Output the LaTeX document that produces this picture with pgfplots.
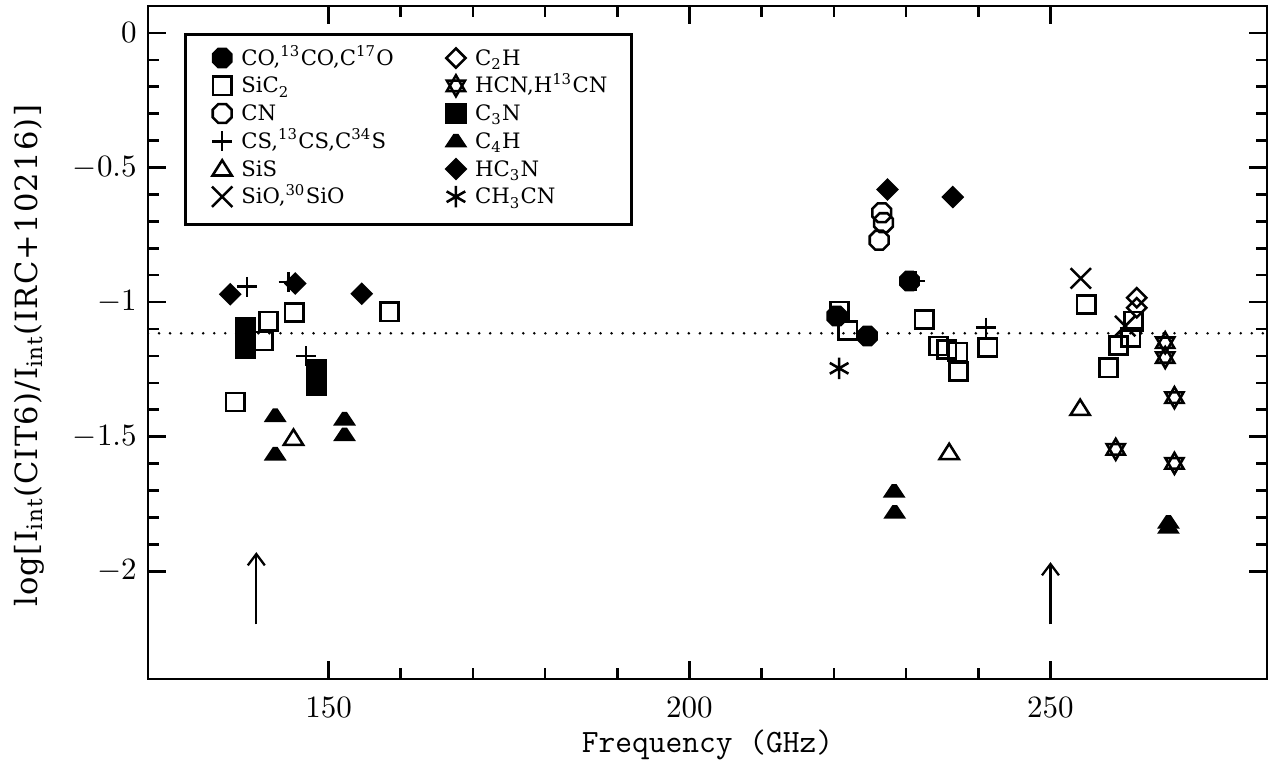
\documentclass[border=0pt]{standalone}
\usepackage{pgfplots}
\pgfplotsset{compat=1.18}
\usepackage{fontspec}
\newfontfamily\dvs{DejaVu Serif}
\newfontfamily\dvsl[LetterSpace=4]{DejaVu Serif}
\usetikzlibrary{arrows.meta}

\pgfdeclareplotmark{octo}{%
  \pgfpathmoveto{\pgfpointpolar{22.5}{3.6pt}}%
  \pgfpathlineto{\pgfpointpolar{67.5}{3.6pt}}%
  \pgfpathlineto{\pgfpointpolar{112.5}{3.6pt}}%
  \pgfpathlineto{\pgfpointpolar{157.5}{3.6pt}}%
  \pgfpathlineto{\pgfpointpolar{202.5}{3.6pt}}%
  \pgfpathlineto{\pgfpointpolar{247.5}{3.6pt}}%
  \pgfpathlineto{\pgfpointpolar{292.5}{3.6pt}}%
  \pgfpathlineto{\pgfpointpolar{337.5}{3.6pt}}%
  \pgfpathclose\pgfusepathqstroke}
\pgfdeclareplotmark{octof}{%
  \pgfpathmoveto{\pgfpointpolar{22.5}{3.5pt}}%
  \pgfpathlineto{\pgfpointpolar{67.5}{3.5pt}}%
  \pgfpathlineto{\pgfpointpolar{112.5}{3.5pt}}%
  \pgfpathlineto{\pgfpointpolar{157.5}{3.5pt}}%
  \pgfpathlineto{\pgfpointpolar{202.5}{3.5pt}}%
  \pgfpathlineto{\pgfpointpolar{247.5}{3.5pt}}%
  \pgfpathlineto{\pgfpointpolar{292.5}{3.5pt}}%
  \pgfpathlineto{\pgfpointpolar{337.5}{3.5pt}}%
  \pgfpathclose\pgfusepathqfillstroke}
\pgfdeclareplotmark{david}{%
  \pgfpathmoveto{\pgfpointpolar{90}{3.7pt}}%
  \pgfpathlineto{\pgfpointpolar{210}{3.7pt}}%
  \pgfpathlineto{\pgfpointpolar{330}{3.7pt}}%
  \pgfpathclose
  \pgfpathmoveto{\pgfpointpolar{270}{3.7pt}}%
  \pgfpathlineto{\pgfpointpolar{30}{3.7pt}}%
  \pgfpathlineto{\pgfpointpolar{150}{3.7pt}}%
  \pgfpathclose\pgfusepathqstroke}
\pgfdeclareplotmark{ast}{%
  \pgfpathmoveto{\pgfpointpolar{90}{3.8pt}}\pgfpathlineto{\pgfpointpolar{270}{3.8pt}}%
  \pgfpathmoveto{\pgfpointpolar{30}{3.8pt}}\pgfpathlineto{\pgfpointpolar{210}{3.8pt}}%
  \pgfpathmoveto{\pgfpointpolar{150}{3.8pt}}\pgfpathlineto{\pgfpointpolar{330}{3.8pt}}%
  \pgfusepathqstroke}
\pgfdeclareplotmark{cross}{%
  \pgfpathmoveto{\pgfqpoint{-3.6pt}{-3.6pt}}\pgfpathlineto{\pgfqpoint{3.6pt}{3.6pt}}%
  \pgfpathmoveto{\pgfqpoint{-3.6pt}{3.6pt}}\pgfpathlineto{\pgfqpoint{3.6pt}{-3.6pt}}%
  \pgfusepathqstroke}
\pgfdeclareplotmark{tri}{%
  \pgfpathmoveto{\pgfqpoint{0pt}{3.1pt}}%
  \pgfpathlineto{\pgfqpoint{3.4pt}{-2.3pt}}%
  \pgfpathlineto{\pgfqpoint{-3.4pt}{-2.3pt}}%
  \pgfpathclose\pgfusepathqstroke}
\pgfdeclareplotmark{trif}{%
  \pgfpathmoveto{\pgfqpoint{-3.2pt}{-1.7pt}}%
  \pgfpathlineto{\pgfqpoint{3.2pt}{-1.7pt}}%
  \pgfpathlineto{\pgfqpoint{0.6pt}{2.2pt}}%
  \pgfpathlineto{\pgfqpoint{-0.6pt}{2.2pt}}%
  \pgfpathclose\pgfusepathqfillstroke}

\begin{document}
\begin{tikzpicture}
\begin{axis}[
  name=ax, scale only axis, width=395.4pt, height=237.8pt,
  xmin=125, xmax=280, ymin=-2.4, ymax=0.1,
  xtick={150,200,250}, minor x tick num=4,
  ytick={-2,-1.5,-1,-0.5,0}, minor y tick num=4,
  tick align=inside, major tick length=6.5pt, minor tick length=3.8pt,
  every tick/.style={black, line width=0.9pt},
  axis line style={line width=1pt},
  ticklabel style={font=\fontsize{11}{13}\selectfont},
  xticklabel style={yshift=-3pt},
  yticklabel style={xshift=-0.5pt},
  xlabel={\fontsize{11.5}{14}\selectfont\ttfamily Frequency (GHz)},
  xlabel style={at={(axis description cs:0.5,0)}, anchor=base, yshift=-26pt},
  ylabel={\dvsl\fontsize{10.8}{13}\selectfont log[I\textsubscript{int}(CIT6)/I\textsubscript{int}(IRC+10216)]},
  ylabel style={at={(axis description cs:-0.0991,0.48)}, anchor=base},
  every axis plot/.append style={line width=0.9pt, black},
  legend columns=2,
  legend style={at={(axis cs:130,0)}, anchor=north west, draw=black, line width=1pt,
    fill=white, inner xsep=7.8pt, inner ysep=4.2pt, row sep=0pt, column sep=0pt,
    font=\dvs\fontsize{7.5}{9}\selectfont,
    nodes={inner sep=0.7pt, text height=6.0pt, text depth=2.4pt, anchor=base west},
    cells={anchor=base west}},
  legend image code/.code={\path (-4.7pt,0pt) (5.6pt,0pt); \draw[#1,only marks] plot coordinates {(0pt,2.5pt)};},
]
% CO, 13CO, C17O
\addplot[only marks, mark=octof, mark options={fill=black}] coordinates {
 (220.40,-1.052) (224.65,-1.126) (230.47,-0.922)};
\addlegendentry{\makebox[70pt][l]{CO,\textsuperscript{13}CO,C\textsuperscript{17}O}}
% C2H
\addplot[only marks, mark=square, mark size=2.4pt, mark options={rotate=45}] coordinates {
 (261.95,-0.984) (261.95,-1.021)};
\addlegendentry{\makebox[42.7pt][l]{C\textsubscript{2}H}}
% SiC2
\addplot[only marks, mark=square, mark size=3.2pt] coordinates {
 (137.08,-1.371) (141.0,-1.145) (141.69,-1.071) (145.25,-1.039) (158.45,-1.036)
 (220.78,-1.033) (221.93,-1.105) (232.51,-1.064) (234.49,-1.163) (235.64,-1.176)
 (237.16,-1.186) (237.26,-1.258) (241.32,-1.169) (254.95,-1.009) (258.03,-1.244)
 (259.42,-1.161) (261.12,-1.132) (261.5,-1.071)};
\addlegendentry{SiC\textsubscript{2}}
% HCN, H13CN
\addplot[only marks, mark=david] coordinates {
 (259.04,-1.547) (265.89,-1.151) (265.89,-1.206) (267.17,-1.355) (267.17,-1.599)};
\addlegendentry{HCN,H\textsuperscript{13}CN}
% CN
\addplot[only marks, mark=octo] coordinates {
 (226.27,-0.770) (226.63,-0.668) (226.87,-0.705)};
\addlegendentry{CN}
% C3N
\addplot[only marks, mark=square*, mark size=3.3pt, mark options={fill=black}] coordinates {
 (138.46,-1.095) (138.46,-1.173) (148.38,-1.25) (148.38,-1.28) (148.38,-1.31)};
\addlegendentry{C\textsubscript{3}N}
% CS, 13CS, C34S
\addplot[only marks, mark=+, mark size=3.5pt] coordinates {
 (138.68,-0.943) (144.46,-0.926) (146.91,-1.200) (231.3,-0.922) (241.04,-1.095)};
\addlegendentry{CS,\textsuperscript{13}CS,C\textsuperscript{34}S}
% C4H
\addplot[only marks, mark=trif, mark options={fill=black}] coordinates {
 (142.62,-1.423) (142.62,-1.566) (152.22,-1.436) (152.22,-1.494)
 (228.35,-1.704) (228.43,-1.782) (266.34,-1.819) (266.34,-1.838)};
\addlegendentry{C\textsubscript{4}H}
% SiS
\addplot[only marks, mark=tri] coordinates {
 (145.15,-1.506) (235.97,-1.559) (254.11,-1.395)};
\addlegendentry{SiS}
% HC3N
\addplot[only marks, mark=square*, mark size=2.4pt, mark options={rotate=45, fill=black}] coordinates {
 (136.39,-0.971) (145.39,-0.931) (154.61,-0.969) (227.42,-0.582) (236.47,-0.610)};
\addlegendentry{HC\textsubscript{3}N}
% SiO, 30SiO
\addplot[only marks, mark=cross] coordinates {
 (254.2,-0.912) (260.35,-1.089)};
\addlegendentry{SiO,\textsuperscript{30}SiO}
% CH3CN
\addplot[only marks, mark=ast] coordinates {
 (220.73,-1.246)};
\addlegendentry{CH\textsubscript{3}CN}
% reference line and arrows
\addplot[forget plot, line width=1pt, line cap=round, dash pattern=on 0pt off 3.9pt] coordinates {
 (125,-1.116) (280,-1.116)};
\addplot[forget plot, line width=0.8pt, -{Straight Barb[length=4pt,width=6pt]}] coordinates {
 (140,-2.197) (140,-1.929)};
\addplot[forget plot, line width=0.8pt, -{Straight Barb[length=4pt,width=6pt]}] coordinates {
 (250,-2.197) (250,-1.966)};
\end{axis}
\pgfresetboundingbox
\path[use as bounding box] ([xshift=-52.3pt,yshift=-30.7pt]ax.south west) rectangle ([xshift=2.1pt,yshift=2.1pt]ax.north east);
\end{tikzpicture}
\end{document}
